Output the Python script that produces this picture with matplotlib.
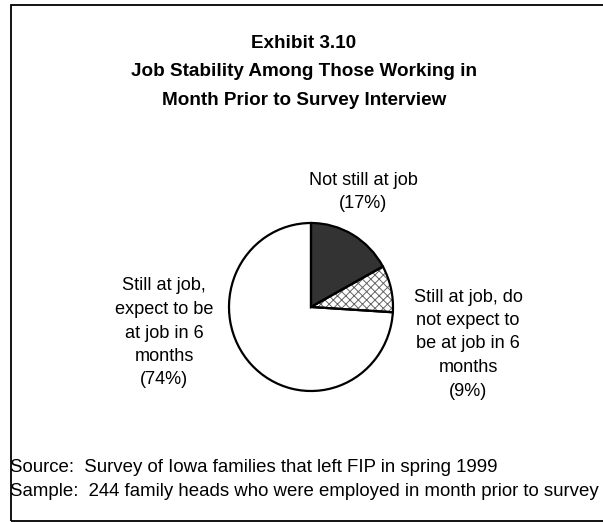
import matplotlib.pyplot as plt
from matplotlib.patches import Rectangle

plt.rcParams['font.family'] = ['Liberation Sans', 'DejaVu Sans']
plt.rcParams['hatch.linewidth'] = 0.7

# job status shares (percent), clockwise from 12 o'clock
shares = [17, 9, 74]
labels = ['Not still at job\n(17%)',
          'Still at job, do\nnot expect to\nbe at job in 6\nmonths\n(9%)',
          'Still at job,\nexpect to be\nat job in 6\nmonths\n(74%)']
fills = ['#333333', 'white', 'white']
hatches = [None, 'xxxx', None]

title = 'Exhibit 3.10\nJob Stability Among Those Working in\nMonth Prior to Survey Interview'
source = 'Source:  Survey of Iowa families that left FIP in spring 1999'
sample = 'Sample:  244 family heads who were employed in month prior to survey'

W, H = 603, 522
fig = plt.figure(figsize=(W / 100, H / 100), dpi=100)

# pie area in pixels: centre and radii
cx, cy, rx, ry = 311, 307, 82, 84
ax = fig.add_axes([(cx - rx) / W, (H - cy - ry) / H, 2 * rx / W, 2 * ry / H])

# fill + hatch first, then black outlines on top
wedges, _ = ax.pie(shares, colors=fills, startangle=90, counterclock=False,
                   wedgeprops=dict(linewidth=0, edgecolor='#666666'))
for w, h in zip(wedges, hatches):
    if h:
        w.set_hatch(h)
ax.pie(shares, colors=['none'] * 3, startangle=90, counterclock=False,
       wedgeprops=dict(linewidth=1.6, edgecolor='black', fill=False))
ax.set_xlim(-1.0, 1.0)
ax.set_ylim(-1.0, 1.0)
ax.set_aspect('auto')
ax.axis('off')


def px(x, y):
    return x / W, 1 - y / H


lab_pos = [(363, 192), (468, 344), (164, 333)]
for lab, (x, y) in zip(labels, lab_pos):
    fig.text(*px(x, y), lab, ha='center', va='center', fontsize=13.1,
             linespacing=1.5)

fig.text(*px(304, 72), title, ha='center', va='center', fontsize=13.6,
         fontweight='bold', linespacing=1.9)

fig.text(*px(10, 467), source, ha='left', va='center', fontsize=13.4)
fig.text(*px(10, 492), sample, ha='left', va='center', fontsize=13.4)

# border round the exhibit
fig.add_artist(Rectangle(px(11, 521), 1.0, (521 - 5) / H,
                         transform=fig.transFigure, fill=False,
                         edgecolor='black', linewidth=1.3))

fig.savefig('out.png', dpi=100)
